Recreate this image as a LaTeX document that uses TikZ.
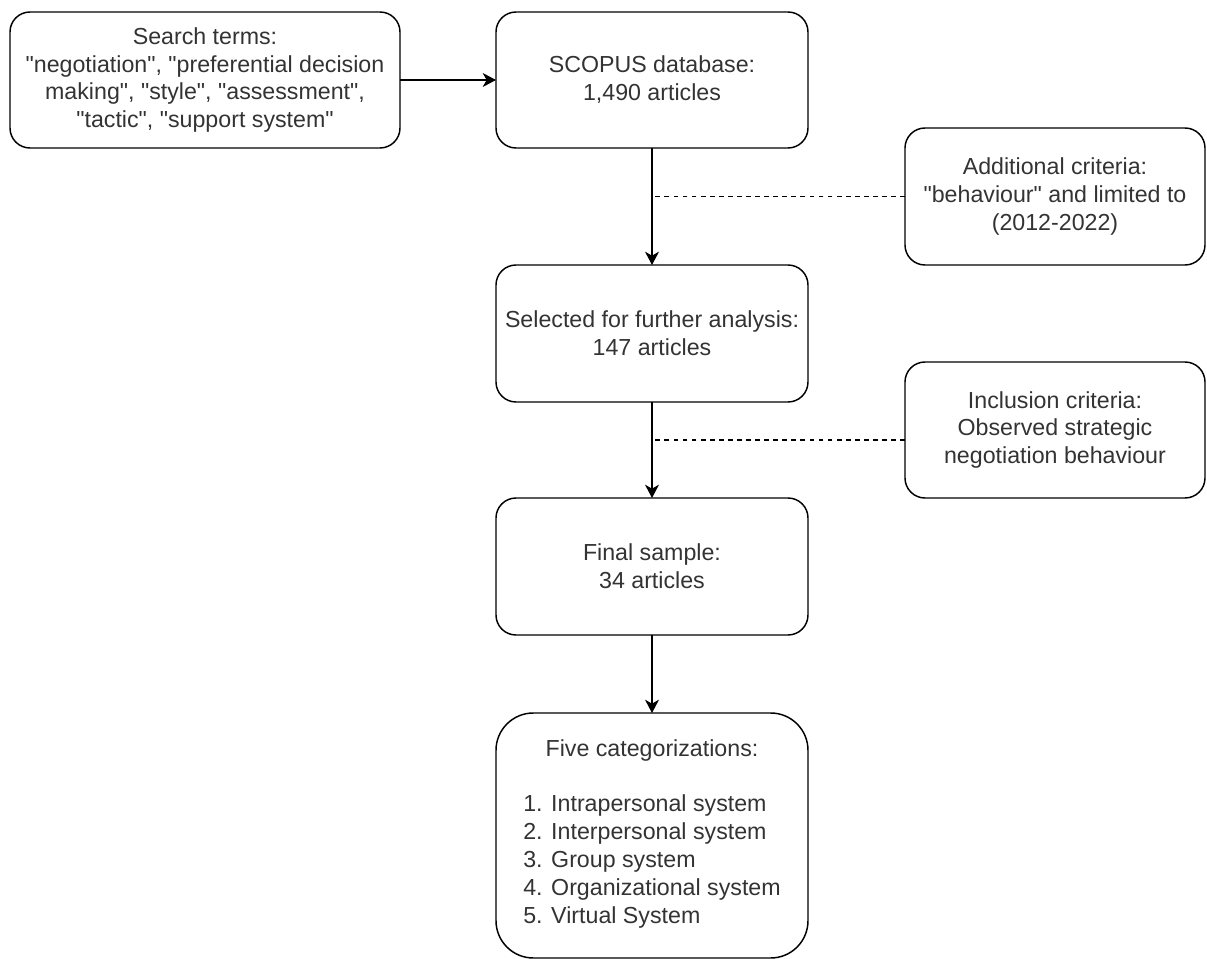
\documentclass[tikz,border=0pt]{standalone}
\usepackage{fontspec}
\setmainfont{Liberation Sans}[Ligatures=TeXOff]
\usetikzlibrary{arrows.meta,calc}
\definecolor{txt}{HTML}{333333}
\begin{document}
\begin{tikzpicture}[x=0.75pt,y=-0.75pt,
  box/.style={draw=black, line width=1.1pt, rounded corners=15pt, inner sep=0pt, outer sep=0pt,
    align=center, text=txt, font=\fontsize{17.4}{20.9}\selectfont},
  arr/.style={line width=1.1pt, -{Stealth[length=10pt,width=10.5pt,inset=3pt]}},
  dashline/.style={line width=1.1pt, dash pattern=on 3.6pt off 3.2pt}]
\useasboundingbox (0,0) rectangle (1207,959);

\node[box, minimum width=292.5pt, minimum height=102pt] (search) at (205,80)
  {Search terms:\\"negotiation", "preferential decision\\making", "style", "assessment",\\"tactic", "support system"};
\node[box, minimum width=234pt, minimum height=102pt] (scopus) at (652,80)
  {SCOPUS database:\\1,490 articles};
\node[box, minimum width=225pt, minimum height=102.75pt] (add) at (1055,196.5)
  {Additional criteria:\\"behaviour" and limited to\\(2012-2022)};
\node[box, minimum width=234pt, minimum height=102.75pt] (sel) at (652,333.5)
  {Selected for further analysis:\\147 articles};
\node[box, minimum width=225pt, minimum height=102pt] (incl) at (1055,430)
  {Inclusion criteria:\\Observed strategic\\negotiation behaviour};
\node[box, minimum width=234pt, minimum height=102.75pt] (final) at (652,566.5)
  {Final sample:\\34 articles};
\node[box, rounded corners=28pt, minimum width=234pt, minimum height=183.75pt] (five) at (652,835.5)
  {Five categorizations:\\[20.9pt]\begin{tabular}[t]{@{}l@{}}1. Intrapersonal system\\2. Interpersonal system\\3. Group system\\4. Organizational system\\5. Virtual System\end{tabular}};

\draw[arr] (search.east) -- (scopus.west);
\draw[arr] (scopus.south) -- (sel.north);
\draw[arr] (sel.south) -- (final.north);
\draw[arr] (final.south) -- (five.north);

\coordinate (j1) at (652,196.5);
\draw[dashline] (add.west) -- (j1);
\coordinate (j2) at (652,440);
\draw[dashline] (incl.west |- j2) -- (j2);
\end{tikzpicture}
\end{document}
